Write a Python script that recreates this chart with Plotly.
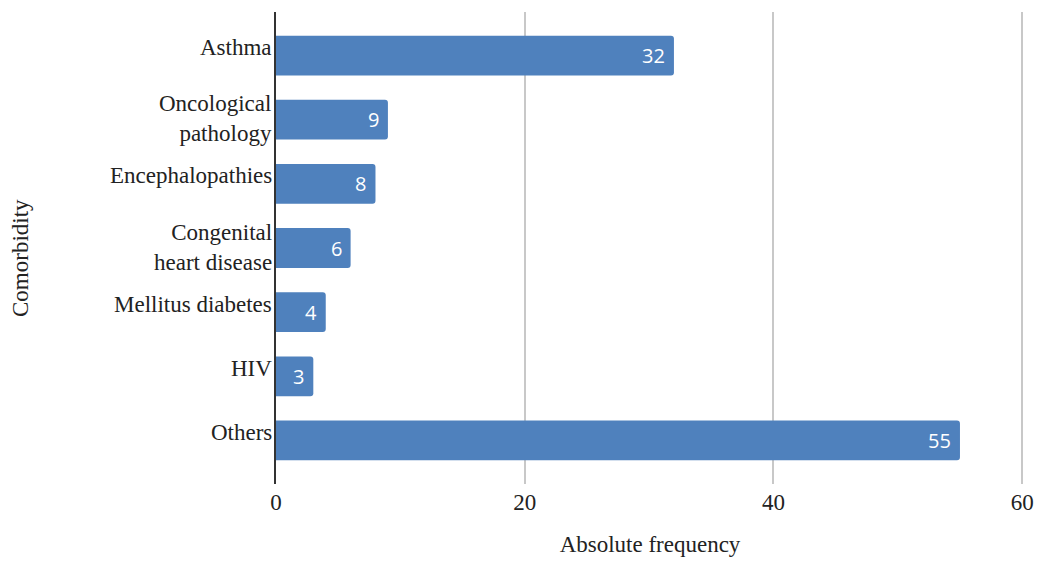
import plotly.graph_objects as go

# Comorbidity counts (top to bottom as displayed)
categories = ["Asthma", "Oncological<br>pathology", "Encephalopathies",
              "Congenital<br>heart disease", "Mellitus diabetes", "HIV", "Others"]
counts = [32, 9, 8, 6, 4, 3, 55]
x_ticks = [0, 20, 40, 60]

BAR_COLOR = "#4f81bd"
SERIF = "Liberation Serif, Times New Roman, serif"
SANS = "Open Sans, Arial, sans-serif"
TEXT_COLOR = "#222222"
FONT_SIZE = 23

ypos = list(range(len(categories)))

fig = go.Figure(go.Bar(
    x=counts,
    y=ypos,
    orientation="h",
    width=0.62,
    marker=dict(color=BAR_COLOR, line=dict(width=0), cornerradius=3),
    hoverinfo="skip",
))

annotations = []
# category labels, right-aligned next to the axis
for i, (cat, val) in enumerate(zip(categories, counts)):
    two_line = "<br>" in cat
    annotations.append(dict(
        x=0, y=i, xref="x", yref="y", text=cat, showarrow=False,
        xanchor="right", yanchor="middle", xshift=-2, yshift=1 if two_line else 8,
        align="right", font=dict(family=SERIF, size=FONT_SIZE, color=TEXT_COLOR),
    ))
    # value label inside the end of each bar
    annotations.append(dict(
        x=val, y=i, xref="x", yref="y", text=str(val), showarrow=False,
        xanchor="right", yanchor="middle", xshift=-7,
        font=dict(family=SANS, size=20, color="white"),
    ))

# y-axis title
annotations.append(dict(
    x=0, y=0.5, xref="paper", yref="paper", text="Comorbidity", showarrow=False,
    xanchor="center", yanchor="middle", xshift=-256, yshift=-10, textangle=-90,
    font=dict(family=SERIF, size=FONT_SIZE, color=TEXT_COLOR),
))

fig.update_layout(
    width=1045, height=562,
    margin=dict(l=276, r=21, t=12, b=78, autoexpand=False),
    paper_bgcolor="white", plot_bgcolor="white",
    showlegend=False,
    annotations=annotations,
)

fig.update_xaxes(
    range=[0, 60.15], tickvals=x_ticks, ticktext=[str(v) for v in x_ticks],
    showgrid=True, gridcolor="#c8c8c8", gridwidth=1.5,
    zeroline=False, showline=False, ticks="", ticklabelstandoff=2,
    automargin=False,
    tickfont=dict(family=SERIF, size=FONT_SIZE, color=TEXT_COLOR),
    title=dict(text="Absolute frequency", standoff=21,
               font=dict(family=SERIF, size=FONT_SIZE, color=TEXT_COLOR)),
)

fig.update_yaxes(
    range=[len(categories) - 1 + 0.68, -0.68],
    showticklabels=False, showgrid=False, zeroline=False,
    showline=True, linecolor="#333333", linewidth=1.5, ticks="",
    automargin=False,
)

fig.write_html("out.html")
